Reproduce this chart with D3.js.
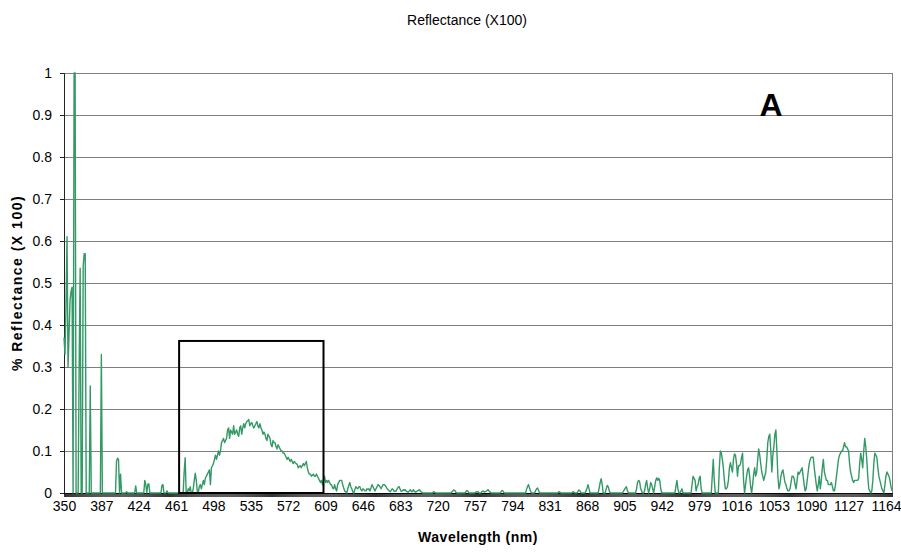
<!DOCTYPE html>
<html>
<head>
<meta charset="utf-8">
<script src="https://cdn.jsdelivr.net/npm/d3@7"></script>
<style>
  body { margin: 0; background: #fff; }
  text { font-family: "Liberation Sans", Arial, sans-serif; fill: #000; }
</style>
</head>
<body>
<script>
// one reading per nm, starting at 350 nm
const startNm = 350;
const reflectance = [
  0.37,0.33,0.45,0.61,0.30,0.38,0.46,0.48,0.49,0,           // 350
  1.0,1.0,0,0,0,0.3,0.535,0,0,0.54,                         // 360
  0.57,0.57,0,0,0,0,0.255,0,0,0,                            // 370
  0,0,0,0,0,0,0,0.33,0,0,                                   // 380
  0,0,0,0,0,0,0,0,0,0,                                      // 390
  0,0,0.075,0.083,0.08,0,0.045,0,0,0,                       // 400
  0,0,0.003,0,0,0,0,0,0,0,                                  // 410
  0,0.017,0,0,0,0,0,0,0,0,                                  // 420
  0.03,0.02,0,0.02,0.022,0,0,0,0,0,                         // 430
  0,0,0,0,0,0,0,0.018,0.02,0,                               // 440
  0,0,0.005,0,0,0,0,0,0,0,                                  // 450
  0,0,0,0,0,0,0,0,0,0.05,                                   // 460
  0.084,0,0,0.01,0.005,0.015,0,0,0.01,0.03,                 // 470
  0.047,0.03,0.005,0,0.015,0.02,0.01,0.02,0.03,0.02,        // 480
  0.035,0.04,0.045,0.05,0.055,0.02,0.06,0.065,0.07,0.08,    // 490
  0.09,0.08,0.09,0.1,0.09,0.1,0.12,0.125,0.13,0.12,         // 500
  0.125,0.13,0.15,0.155,0.13,0.15,0.145,0.14,0.16,0.14,     // 510
  0.145,0.15,0.14,0.135,0.155,0.16,0.14,0.155,0.165,0.155,  // 520
  0.165,0.17,0.172,0.175,0.16,0.165,0.168,0.16,0.155,0.16,  // 530
  0.165,0.17,0.16,0.155,0.165,0.155,0.15,0.14,0.145,0.14,   // 540
  0.13,0.125,0.14,0.135,0.13,0.115,0.11,0.125,0.12,0.12,    // 550
  0.11,0.105,0.115,0.11,0.105,0.1,0.1,0.095,0.095,0.09,     // 560
  0.085,0.08,0.085,0.08,0.075,0.08,0.075,0.07,0.075,0.072,  // 570
  0.07,0.068,0.06,0.063,0.065,0.06,0.065,0.07,0.065,0.07,   // 580
  0.075,0.06,0.05,0.045,0.045,0.04,0.042,0.045,0.04,0.04,   // 590
  0.045,0.04,0.035,0.03,0.025,0.03,0.02,0.03,0.04,0.025,    // 600
  0.03,0.025,0.03,0.025,0.02,0.02,0.012,0.01,0.02,0.01,     // 610
  0.005,0.02,0.025,0.03,0.03,0.03,0.02,0.012,0.005,0.003,   // 620
  0,0.01,0.018,0.025,0.015,0.01,0.003,0,0.008,0.015,        // 630
  0.012,0.01,0.015,0.015,0.008,0.005,0.01,0.008,0.005,0.005,// 640
  0.01,0.008,0.01,0.005,0.012,0.02,0.015,0.01,0.005,0.01,   // 650
  0.015,0.02,0.018,0.015,0.01,0.015,0.02,0.02,0.018,0.015,  // 660
  0.01,0.008,0.005,0.003,0.006,0.01,0.008,0.004,0.004,0.005,// 670
  0.01,0.014,0.015,0.008,0.004,0.005,0.008,0.006,0.008,0.004,// 680
  0.003,0.002,0.005,0.008,0.004,0.003,0.008,0.004,0.002,0.003,// 690
  0.005,0.006,0.008,0.004,0.002,0,0,0,0,0,                  // 700
  0,0,0,0,0,0,0.003,0.002,0,0,                              // 710
  0,0,0,0,0,0,0,0,0,0,                                      // 720
  0,0,0,0,0.002,0.005,0.007,0.006,0.002,0,                  // 730
  0,0,0,0,0,0,0,0,0.003,0.006,                              // 740
  0.004,0,0,0,0,0,0,0,0.002,0.003,                          // 750
  0.003,0,0,0,0.004,0.005,0.002,0.003,0.004,0.006,          // 760
  0.008,0.004,0.002,0,0,0,0,0,0,0,                          // 770
  0,0,0,0.004,0.006,0.004,0,0,0,0,                          // 780
  0,0,0,0,0,0,0,0,0,0,                                      // 790
  0,0,0,0,0,0,0,0,0.008,0.015,                              // 800
  0.02,0.012,0.005,0,0,0,0,0.005,0.01,0.012,                // 810
  0.006,0,0,0,0,0,0,0,0,0,                                  // 820
  0,0,0,0,0,0,0,0,0,0,                                      // 830
  0.003,0.002,0,0,0,0,0,0,0,0,                              // 840
  0,0,0,0,0.003,0.002,0,0,0,0.004,                          // 850
  0.007,0.005,0,0,0,0,0,0.005,0.012,0.02,                   // 860
  0.01,0,0,0,0,0,0,0,0,0,                                   // 870
  0.012,0.025,0.034,0.02,0,0,0,0.01,0.018,0.015,            // 880
  0.005,0,0,0,0,0,0,0,0,0,                                  // 890
  0,0,0,0,0.004,0.008,0.012,0.015,0.005,0,                  // 900
  0,0,0,0,0,0,0,0.01,0.025,0.03,                            // 910
  0.028,0.012,0.005,0,0,0.005,0.02,0.03,0.012,0,            // 920
  0.01,0.025,0.02,0.01,0,0.015,0.03,0.036,0.03,0.035,       // 930
  0.03,0.01,0,0,0,0,0,0,0,0,                                // 940
  0,0,0,0,0,0,0.015,0.03,0.01,0,                            // 950
  0,0.005,0.01,0,0,0,0,0,0,0,                               // 960
  0,0,0.02,0.04,0.035,0.03,0.005,0.015,0.02,0.035,          // 970
  0.04,0.01,0,0,0,0,0,0,0,0,                                // 980
  0,0,0.04,0.08,0.03,0,0,0,0,0.06,                          // 990
  0.1,0.095,0.08,0.06,0.03,0.01,0.01,0.015,0.03,0.06,       // 1000
  0.072,0.06,0.05,0.08,0.093,0.09,0.07,0.04,0.065,0.065,    // 1010
  0.07,0.085,0.095,0.03,0,0.02,0.04,0.055,0.06,0.04,        // 1020
  0.015,0,0.02,0.045,0.06,0.04,0.05,0.08,0.105,0.09,        // 1030
  0.07,0.05,0.04,0.03,0.04,0.05,0.08,0.12,0.135,0.14,       // 1040
  0.1,0.05,0.09,0.11,0.14,0.15,0.1,0.04,0.01,0.02,          // 1050
  0.04,0.05,0.055,0.04,0.025,0.02,0.01,0.005,0.005,0.01,    // 1060
  0.025,0.04,0.04,0.035,0.02,0.01,0.03,0.05,0.045,0.05,     // 1070
  0.055,0.06,0.04,0.02,0.005,0.01,0.03,0.05,0.07,0.08,      // 1080
  0.085,0.085,0.085,0.06,0.04,0.02,0.005,0.02,0.04,0.01,    // 1090
  0.03,0.06,0.08,0.05,0.04,0.03,0.03,0.02,0.02,0.02,        // 1100
  0.025,0.015,0.005,0.005,0.02,0.04,0.06,0.08,0.09,0.095,   // 1110
  0.1,0.1,0.11,0.12,0.11,0.11,0.105,0.1,0.07,0.05,          // 1120
  0.04,0.03,0.025,0.03,0.03,0.03,0.03,0.035,0.07,0.095,     // 1130
  0.08,0.06,0.1,0.13,0.11,0.08,0.04,0.01,0.005,0,           // 1140
  0.005,0.03,0.07,0.095,0.09,0.085,0.06,0.04,0.03,0.02,     // 1150
  0.01,0.005,0,0.02,0.04,0.05,0.045,0.04,0.03,0.015,        // 1160
  0.005                                                     // 1170
];

const xTickLabels = [350,387,424,461,498,535,572,609,646,683,720,757,794,831,868,905,942,979,1016,1053,1090,1127,1164];
const yTickValues = [0,0.1,0.2,0.3,0.4,0.5,0.6,0.7,0.8,0.9,1];
const yTickLabels = ["0","0.1","0.2","0.3","0.4","0.5","0.6","0.7","0.8","0.9","1"];

// highlighted window
const boxRange = [464, 607];
const boxTop = 0.362;

const W = 901, H = 555;
const plot = {left: 64, right: 892, top: 73, bottom: 493};

const data = reflectance.map((v, i) => ({nm: startNm + i, v: v}));
const lastNm = startNm + reflectance.length - 1;

const svg = d3.select("body").append("svg")
    .attr("width", W)
    .attr("height", H);

const x = d3.scaleLinear()
    .domain([startNm, lastNm])
    .range([plot.left, plot.right]);

const y = d3.scaleLinear()
    .domain([0, 1])
    .range([plot.bottom, plot.top]);

// horizontal grid
svg.append("g")
  .selectAll("line")
  .data(yTickValues.slice(1))
  .enter()
  .append("line")
    .attr("x1", plot.left)
    .attr("x2", plot.right)
    .attr("y1", d => Math.round(y(d)) + 0.5)
    .attr("y2", d => Math.round(y(d)) + 0.5)
    .attr("stroke", "#7f7f7f")
    .attr("stroke-width", 1);

// right border
svg.append("line")
    .attr("x1", plot.right + 0.5).attr("x2", plot.right + 0.5)
    .attr("y1", plot.top).attr("y2", plot.bottom)
    .attr("stroke", "#7f7f7f");

// y axis
const yAxis = svg.append("g")
    .attr("transform", `translate(${plot.left},0)`)
    .call(d3.axisLeft(y)
      .tickValues(yTickValues)
      .tickFormat((d, i) => yTickLabels[i])
      .tickSize(4)
      .tickPadding(8));
yAxis.select(".domain").attr("stroke", "#222");
yAxis.selectAll(".tick line").attr("stroke", "#222");
yAxis.selectAll("text").style("font-size", "14px").attr("fill", "#000");

// dense category ticks along the x axis
const xMinor = svg.append("g")
    .attr("transform", `translate(0,${plot.bottom})`)
    .call(d3.axisBottom(x)
      .tickValues(data.map(d => d.nm))
      .tickFormat("")
      .tickSize(4)
      .tickSizeOuter(0));
xMinor.select(".domain").attr("stroke", "#222");
xMinor.selectAll(".tick line").attr("stroke", "#000").attr("stroke-width", 0.8);

// x labels
const xAxis = svg.append("g")
    .attr("transform", `translate(0,${plot.bottom})`)
    .call(d3.axisBottom(x)
      .tickValues(xTickLabels)
      .tickFormat(d => String(d))
      .tickSize(0)
      .tickPadding(8));
xAxis.select(".domain").remove();
xAxis.selectAll("text").style("font-size", "14px").attr("fill", "#000");

// spectrum
const line = d3.line()
    .x(d => x(d.nm))
    .y(d => y(d.v));

svg.append("path")
    .datum(data)
    .attr("fill", "none")
    .attr("stroke", "#339966")
    .attr("stroke-width", 1.4)
    .attr("stroke-linejoin", "round")
    .attr("d", line);

// box around visible band
svg.append("rect")
    .attr("x", x(boxRange[0]))
    .attr("y", y(boxTop))
    .attr("width", x(boxRange[1]) - x(boxRange[0]))
    .attr("height", y(0) - y(boxTop))
    .attr("fill", "none")
    .attr("stroke", "#000")
    .attr("stroke-width", 2);

// titles
svg.append("text")
    .attr("x", 467)
    .attr("y", 25)
    .attr("text-anchor", "middle")
    .style("font-size", "14px")
    .text("Reflectance (X100)");

svg.append("text")
    .attr("x", 478)
    .attr("y", 542)
    .attr("text-anchor", "middle")
    .style("font-size", "14px")
    .style("font-weight", "bold")
    .style("letter-spacing", "0.5px")
    .text("Wavelength (nm)");

svg.append("text")
    .attr("transform", `translate(22,${(plot.top + plot.bottom) / 2}) rotate(-90)`)
    .attr("text-anchor", "middle")
    .style("font-size", "14px")
    .style("font-weight", "bold")
    .style("letter-spacing", "1.5px")
    .text("% Reflectance (X 100)");

svg.append("text")
    .attr("x", 771)
    .attr("y", 116)
    .attr("text-anchor", "middle")
    .style("font-size", "32px")
    .style("font-weight", "bold")
    .text("A");
</script>
</body>
</html>
